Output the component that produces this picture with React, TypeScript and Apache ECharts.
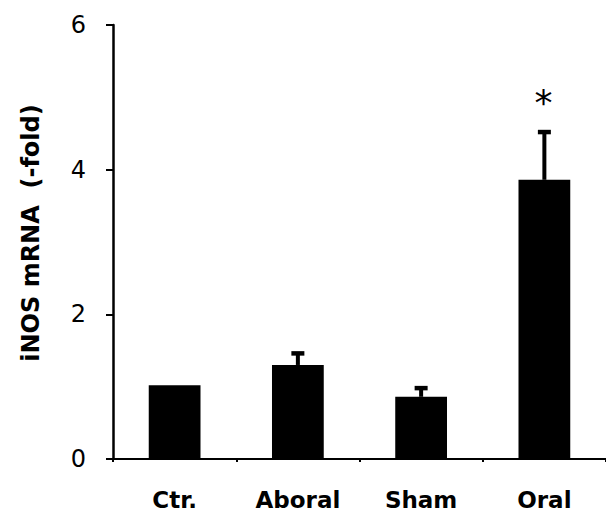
import React, { useEffect, useRef } from "react";
import * as echarts from "echarts";

const categories = ["Ctr.", "Aboral", "Sham", "Oral"];
const means = [1.02, 1.3, 0.86, 3.86];
const errorTops = [1.02, 1.46, 0.98, 4.52];
const significance = ["", "", "", "*"];
const yTicks = { min: 0, max: 6, interval: 2 };
const yTitle = "iNOS mRNA  (-fold)";

export default function App() {
  const ref = useRef<HTMLDivElement>(null);
  useEffect(() => {
    document.body.style.margin = "0";
    const chart = echarts.init(ref.current!, null, { renderer: "svg" });
    const errData = categories.map((c, i) => [i, means[i], errorTops[i], significance[i]]);
    chart.setOption({
      animation: false,
      backgroundColor: "#ffffff",
      grid: { left: 113, right: 0, top: 25, bottom: 52 },
      xAxis: {
        type: "category",
        data: categories,
        axisLine: { lineStyle: { color: "#000", width: 2 } },
        axisTick: { show: true, length: 3, lineStyle: { color: "#000", width: 2 } },
        axisLabel: {
          color: "#000",
          fontFamily: "DejaVu Sans",
          fontWeight: "bold",
          fontSize: 23,
          margin: 29,
        },
      },
      yAxis: {
        type: "value",
        min: yTicks.min,
        max: yTicks.max,
        interval: yTicks.interval,
        splitLine: { show: false },
        axisLine: { show: true, lineStyle: { color: "#000", width: 2.5 } },
        axisTick: { show: true, length: 7, lineStyle: { color: "#000", width: 2 } },
        axisLabel: {
          color: "#000",
          fontFamily: "DejaVu Sans",
          fontSize: 24,
          margin: 27,
        },
      },
      graphic: [
        {
          type: "text",
          x: 31,
          y: 233,
          rotation: Math.PI / 2,
          style: {
            text: yTitle,
            fill: "#000",
            font: "bold 24px 'DejaVu Sans'",
            align: "center",
            verticalAlign: "middle",
          },
        },
      ],
      series: [
        {
          type: "bar",
          data: means,
          barWidth: "42%",
          itemStyle: { color: "#000" },
          z: 2,
        },
        {
          type: "custom",
          data: errData,
          z: 3,
          renderItem: (params: any, api: any) => {
            const idx = api.value(0);
            const mean = api.value(1);
            const top = api.value(2);
            const sig = significance[params.dataIndex];
            const p0 = api.coord([idx, mean]);
            const p1 = api.coord([idx, top]);
            const children: any[] = [];
            if (top > mean) {
              children.push({
                type: "line",
                shape: { x1: p0[0], y1: p0[1], x2: p1[0], y2: p1[1] },
                style: { stroke: "#000", lineWidth: 4 },
              });
              children.push({
                type: "line",
                shape: { x1: p1[0] - 6.5, y1: p1[1], x2: p1[0] + 6.5, y2: p1[1] },
                style: { stroke: "#000", lineWidth: 4.5 },
              });
            }
            if (sig) {
              children.push({
                type: "text",
                x: p1[0] - 1,
                y: p1[1] - 12,
                style: {
                  text: sig,
                  fill: "#000",
                  font: "36px 'DejaVu Sans'",
                  align: "center",
                  verticalAlign: "bottom",
                },
              });
            }
            return { type: "group", children };
          },
        },
      ],
    });
    return () => chart.dispose();
  }, []);
  return <div ref={ref} style={{ width: 606, height: 511 }} />;
}
